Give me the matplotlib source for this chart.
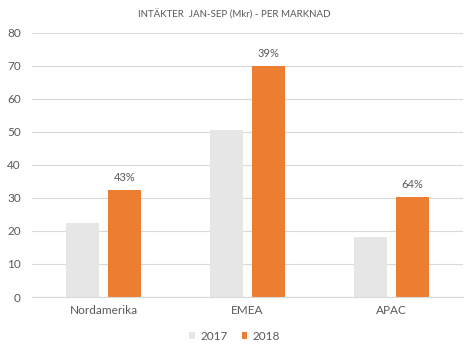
import numpy as np
import matplotlib
matplotlib.use('Agg')
import matplotlib.pyplot as plt

categories = ['Nordamerika', 'EMEA', 'APAC']
values_2017 = [22.5, 50.5, 18.3]
values_2018 = [32.3, 70.0, 30.2]
growth = ['43%', '39%', '64%']

plt.rcParams['font.family'] = ['Lato', 'DejaVu Sans']
text_col = '#595959'

fig = plt.figure(figsize=(4.69, 3.54), dpi=100)
ax = fig.add_axes([0.068, 0.161, 0.919, 0.746])

x = np.arange(len(categories))
w = 0.23
gap = 0.0625
b1 = ax.bar(x - (w + gap) / 2, values_2017, w, color='#e7e6e6', label='2017', zorder=2)
b2 = ax.bar(x + (w + gap) / 2, values_2018, w, color='#ed7d31', label='2018', zorder=2)

for rect, lab in zip(b2, growth):
    ax.text(rect.get_x() + rect.get_width() / 2, rect.get_height() + 2.2, lab,
            ha='center', va='bottom', fontsize=8, color=text_col)

ax.set_xlim(-0.5, 2.5)
ax.set_ylim(0, 80)
ax.set_yticks(range(0, 81, 10))
ax.set_xticks(x)
ax.set_xticklabels(categories)
ax.yaxis.grid(True, color='#d9d9d9', linewidth=0.8, zorder=0)
ax.tick_params(axis='both', length=0, labelsize=8.5, colors=text_col)
ax.tick_params(axis='y', pad=8)
ax.tick_params(axis='x', pad=6)
for s in ['top', 'right', 'left']:
    ax.spines[s].set_visible(False)
ax.spines['bottom'].set_color('#d9d9d9')

fig.suptitle('INTÄKTER  JAN-SEP (Mkr) - PER MARKNAD', y=0.975, fontsize=7, color=text_col)

leg = fig.legend(loc='lower center', bbox_to_anchor=(0.5, 0.005), ncol=2, frameon=False,
                 fontsize=8.5, handlelength=0.5, handleheight=0.5, handletextpad=0.4,
                 columnspacing=1.2)
for t in leg.get_texts():
    t.set_color(text_col)

fig.savefig('out.png', dpi=100)
